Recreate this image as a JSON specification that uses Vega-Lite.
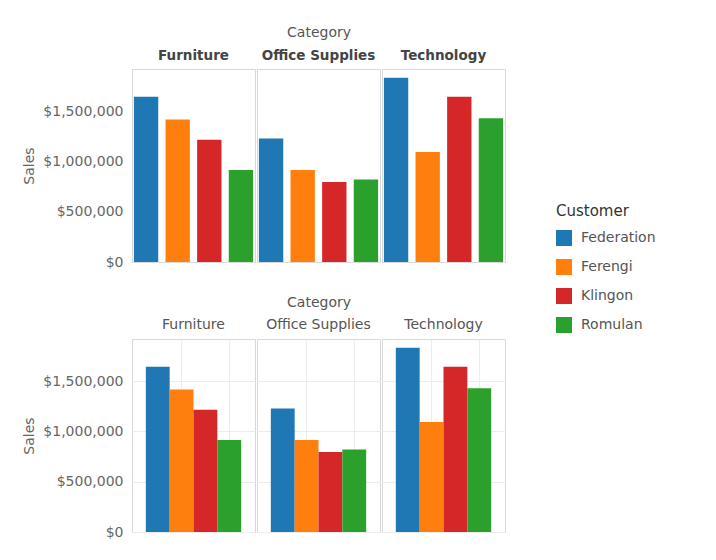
{
  "$schema": "https://vega.github.io/schema/vega-lite/v6.json",
  "padding": {"left": 22, "top": 26, "right": 5, "bottom": 5},
  "background": "white",
  "datasets": {
    "sales": [
      {"Category": "Furniture", "Customer": "Federation", "Sales": 1643000},
      {"Category": "Furniture", "Customer": "Ferengi", "Sales": 1417000},
      {"Category": "Furniture", "Customer": "Klingon", "Sales": 1215000},
      {"Category": "Furniture", "Customer": "Romulan", "Sales": 916000},
      {"Category": "Office Supplies", "Customer": "Federation", "Sales": 1228000},
      {"Category": "Office Supplies", "Customer": "Ferengi", "Sales": 916000},
      {"Category": "Office Supplies", "Customer": "Klingon", "Sales": 797000},
      {"Category": "Office Supplies", "Customer": "Romulan", "Sales": 820000},
      {"Category": "Technology", "Customer": "Federation", "Sales": 1832000},
      {"Category": "Technology", "Customer": "Ferengi", "Sales": 1095000},
      {"Category": "Technology", "Customer": "Klingon", "Sales": 1643000},
      {"Category": "Technology", "Customer": "Romulan", "Sales": 1430000}
    ]
  },
  "spacing": 27,
  "vconcat": [
    {
      "data": {"name": "sales"},
      "facet": {
        "column": {
          "field": "Category", "type": "nominal", "title": "Category",
          "header": {"labelFontWeight": "bold", "labelFontSize": 13.5, "labelColor": "#444", "labelPadding": 6, "titlePadding": -2}
        }
      },
      "spacing": 0,
      "spec": {
        "width": 123,
        "height": 193,
        "mark": {"type": "bar"},
        "encoding": {
          "x": {"field": "Customer", "type": "nominal", "axis": null, "scale": {"paddingInner": 0.23, "paddingOuter": 0.06}},
          "y": {
            "field": "Sales", "type": "quantitative", "title": "Sales",
            "scale": {"domain": [0, 1920000], "nice": false},
            "axis": {"values": [0, 500000, 1000000, 1500000], "format": "$,.0f", "grid": false, "labelPadding": 8, "titlePadding": 6}
          },
          "color": {
            "field": "Customer", "type": "nominal",
            "scale": {"domain": ["Federation", "Ferengi", "Klingon", "Romulan"], "range": ["#1f77b4", "#ff7f0e", "#d62728", "#2ca02c"]},
            "legend": {
              "title": "Customer", "orient": "none", "legendX": 424, "legendY": 135,
              "symbolType": "square", "symbolSize": 256, "symbolStrokeWidth": 0,
              "labelFontSize": 14, "labelColor": "#555", "labelOffset": 9,
              "titleFontSize": 15, "titleFontWeight": "normal", "titleColor": "#333", "titlePadding": 11,
              "rowPadding": 13
            }
          }
        }
      }
    },
    {
      "data": {"name": "sales"},
      "facet": {
        "column": {
          "field": "Category", "type": "nominal", "title": "Category",
          "header": {"labelFontWeight": "normal", "labelFontSize": 14, "labelColor": "#555", "labelPadding": 6, "titlePadding": -2}
        }
      },
      "spacing": 0,
      "spec": {
        "width": 123,
        "height": 193,
        "mark": {"type": "bar"},
        "encoding": {
          "x": {
            "field": "Customer", "type": "nominal",
            "scale": {"paddingInner": 0, "paddingOuter": 0.58},
            "axis": {"values": ["Ferengi", "Romulan"], "grid": true, "gridColor": "#ececec", "labels": false, "ticks": false, "domain": false, "title": null}
          },
          "y": {
            "field": "Sales", "type": "quantitative", "title": "Sales",
            "scale": {"domain": [0, 1920000], "nice": false},
            "axis": {"values": [0, 500000, 1000000, 1500000], "format": "$,.0f", "grid": true, "gridColor": "#ececec", "labelPadding": 8, "titlePadding": 6}
          },
          "color": {
            "field": "Customer", "type": "nominal",
            "scale": {"domain": ["Federation", "Ferengi", "Klingon", "Romulan"], "range": ["#1f77b4", "#ff7f0e", "#d62728", "#2ca02c"]}
          }
        }
      }
    }
  ],
  "config": {
    "font": "DejaVu Sans",
    "view": {"stroke": "#d9d9d9"},
    "axis": {"labelFontSize": 14, "labelColor": "#666", "titleColor": "#666", "titleFontSize": 14, "titleFontWeight": "normal", "domain": false, "ticks": false},
    "header": {"titleFontSize": 14, "titleColor": "#555", "titleFontWeight": "normal"}
  }
}
